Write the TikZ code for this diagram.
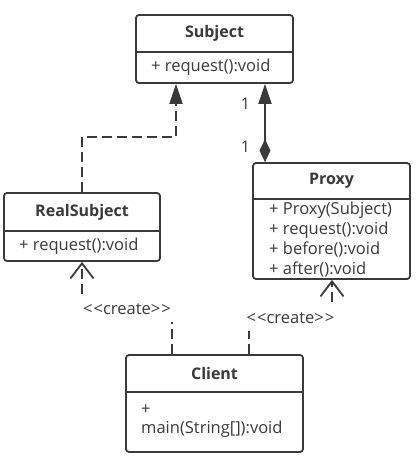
\documentclass[tikz,border=0pt]{standalone}
\usepackage{fontspec}
\setmainfont{Open Sans}
\usepackage{tikz}
\usetikzlibrary{arrows.meta}
\definecolor{umlgray}{HTML}{3A3A3A}

\begin{document}
\begin{tikzpicture}[x=1pt, y=-1pt,
    classbox/.style={draw=umlgray, line width=1.8pt, rounded corners=3pt, fill=white, inner sep=0pt},
    classname/.style={font=\bfseries\fontsize{16}{18}\selectfont, text=umlgray},
    member/.style={font=\fontsize{16.5}{20}\selectfont, text=umlgray, anchor=west, align=left, inner sep=0pt},
    divider/.style={draw=umlgray, line width=1.8pt},
    link/.style={draw=umlgray, line width=1.8pt},
    dep/.style={link, dash pattern=on 10pt off 5pt},
    stereo/.style={font=\fontsize{16.5}{18}\selectfont, text=umlgray, fill=white, minimum height=26pt, minimum width=92pt, inner xsep=1pt},
    mult/.style={font=\fontsize{16}{18}\selectfont, text=umlgray, inner sep=0pt}]
\useasboundingbox (0,0) rectangle (417,461);

% Subject
\node[classbox, minimum width=157pt, minimum height=68pt] (subject) at (214.5,49) {};
\node[classname] (subjectname) at (214.5,33.5) {Subject};
\draw[divider] (136,52) -- (293,52);
\node[member] (subjectops) at (151,67.5) {+ request():void};

% RealSubject
\node[classbox, minimum width=156pt, minimum height=68pt] (realsubject) at (82,227) {};
\node[classname] (realsubjectname) at (82,212) {RealSubject};
\draw[divider] (4,231) -- (160,231);
\node[member] (realsubjectops) at (19,246) {+ request():void};

% Proxy
\node[classbox, minimum width=157pt, minimum height=116pt] (proxy) at (331.5,221) {};
\node[classname] (proxyname) at (331.5,181) {Proxy};
\draw[divider] (253,199) -- (410,199);
\node[member] (proxyops) at (269,239.5) {+ Proxy(Subject)\\+ request():void\\+ before():void\\+ after():void};

% Client
\node[classbox, minimum width=177pt, minimum height=97pt] (client) at (214.5,403.5) {};
\node[classname] (clientname) at (214.5,373.5) {Client};
\draw[divider] (126,392) -- (303,392);
\node[member, font=\fontsize{16.5}{19}\selectfont] (clientops) at (141,421.5) {+\\main(String[]):void};

% relations
\draw[dep, -{Triangle[length=20pt,width=13pt]}] (realsubject.north) -- ++(0,-55) -| ([xshift=-38.5pt]subject.south);
\draw[link, {Diamond[length=23pt,width=11pt]}-{Triangle[length=20pt,width=13pt]}] ([xshift=-66.5pt]proxy.north) -- node[mult, pos=0.2, left=14pt] {1} node[mult, pos=0.75, left=14pt] {1} ([xshift=50.5pt]subject.south);
\draw[dep, -{Straight Barb[length=15pt,width=23pt]}] ([xshift=-42.5pt]client.north) -- ++(0,-45) -| node[stereo, pos=0.25] {<\kern1pt<create>\kern1pt>} (realsubject.south);
\draw[dep, -{Straight Barb[length=15pt,width=23pt]}] ([xshift=34.5pt]client.north) -- ++(0,-36) -| node[stereo, pos=0.25] {<\kern1pt<create>\kern1pt>} ([xshift=0.5pt]proxy.south);
\end{tikzpicture}
\end{document}
